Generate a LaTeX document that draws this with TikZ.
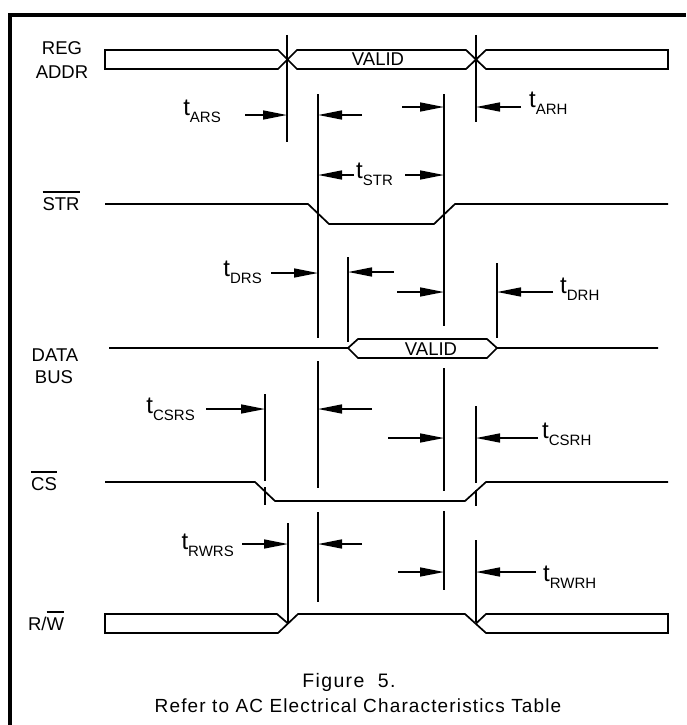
\documentclass[tikz,border=0pt]{standalone}
\usepackage{fontspec}
\setmainfont{Liberation Sans}
\usepackage{tikz}
\usetikzlibrary{arrows.meta}

\newcommand{\tlbl}[1]{{\fontsize{24pt}{24pt}\selectfont t}\raisebox{-7pt}{\fontsize{15pt}{15pt}\selectfont #1}}
\newcommand{\ovl}[1]{\vbox{\hrule height 1.5pt\kern 4.5pt\hbox{#1}}}

\begin{document}
\begin{tikzpicture}[x=1pt, y=-1pt,
  sig/.style={line width=1.7pt, line join=miter},
  vref/.style={line width=1.6pt},
  dimarr/.style={line width=1.6pt, -{Triangle[length=24pt,width=9pt]}},
  siglbl/.style={font=\fontsize{18.5pt}{18.5pt}\selectfont, inner sep=0pt, anchor=base},
  tlab/.style={inner sep=0pt}]
  \useasboundingbox (0,0) rectangle (686,725);

  % Frame (top and left edge only)
  \draw[line width=3.3pt] (10,725) -- (10,15) -- (686,15);

  % Signal 1: REG ADDR bus
  \draw[sig] (278,50) -- (105,50) -- (105,69) -- (278,69) -- (297,50) -- (466,50) -- (486,69)
    -- (668,69) -- (668,50) -- (486,50) -- (466,69) -- (297,69) -- cycle;
  \node[siglbl] (reg) at (62,55) {REG};
  \node[siglbl] (addr) at (62,78) {ADDR};
  \node[siglbl] (validA) at (378,66) {VALID};

  % Signal 2: STR strobe
  \draw[sig] (105,204) -- (308,204) -- (329,224) -- (434,224) -- (455,204) -- (668,204);
  \node[siglbl] (str) at (61,210) {\ovl{STR}};

  % Signal 3: DATA BUS
  \draw[sig] (109,348) -- (348,348) -- (358,339) -- (487,339) -- (497,348) -- (658,348);
  \draw[sig] (348,348) -- (358,358) -- (487,358) -- (497,348);
  \node[siglbl] (data) at (55,361) {DATA};
  \node[siglbl] (bus) at (54,383) {BUS};
  \node[siglbl] (validD) at (431,355) {VALID};

  % Signal 4: CS chip select
  \draw[sig] (105,482) -- (255,482) -- (275,501) -- (465,501) -- (486,482) -- (668,482);
  \node[siglbl] (cs) at (44,490) {\ovl{CS}};

  % Signal 5: R/W
  \draw[sig] (288,623.5) -- (277,614) -- (105,614) -- (105,633) -- (278,633) -- (298,614)
    -- (465,614) -- (486,633) -- (668,633) -- (668,614) -- (486,614) -- (476,623.5);
  \node[siglbl] (rw) at (46,630) {R/\ovl{W}};

  % Reference lines
  \foreach \x/\ya/\yb in {287/35/142, 476/35/122,
      318/94/338, 318/361/488, 318/512/602,
      444/94/326, 444/368/491, 444/511/590,
      348/257/342, 497/263/338,
      265/394/481, 265/487/505, 476/406/483, 476/490/506,
      288/523/622, 476/540/622}
    \draw[vref] (\x,\ya) -- (\x,\yb);

  % Timing arrows
  \foreach \xa/\xb/\y in {245/287/115, 362/318/115, 402/444/107, 521/476/107,
      354/318/175, 405/444/175,
      271/318/273, 394/348/272, 397/444/292, 553/497/292,
      206/265/409, 372/318/409, 388/444/438, 538/476/438,
      242/288/544, 362/318/544, 398/444/572, 536/476/572}
    \draw[dimarr] (\xa,\y) -- (\xb,\y);

  % Timing labels
  \node[tlab, anchor=base east] (tars) at (221,115) {\tlbl{ARS}};
  \node[tlab, anchor=base west] (tarh) at (529,107) {\tlbl{ARH}};
  \node[tlab, anchor=base west] (tstr) at (356,178) {\tlbl{STR}};
  \node[tlab, anchor=base east] (tdrs) at (262,276) {\tlbl{DRS}};
  \node[tlab, anchor=base west] (tdrh) at (560,293) {\tlbl{DRH}};
  \node[tlab, anchor=base east] (tcsrs) at (195,413) {\tlbl{CSRS}};
  \node[tlab, anchor=base west] (tcsrh) at (542,438) {\tlbl{CSRH}};
  \node[tlab, anchor=base east] (trwrs) at (234,549) {\tlbl{RWRS}};
  \node[tlab, anchor=base west] (trwrh) at (543,581) {\tlbl{RWRH}};

  % Caption
  \node[siglbl, font=\fontsize{19.5pt}{19.5pt}\selectfont\addfontfeatures{LetterSpace=7}] (fig) at (349,687) {Figure\ \ 5.};
  \node[siglbl, font=\fontsize{19pt}{19pt}\selectfont\addfontfeatures{LetterSpace=6}] (refer) at (358,712) {Refer to AC Electrical Characteristics Table};
\end{tikzpicture}
\end{document}
